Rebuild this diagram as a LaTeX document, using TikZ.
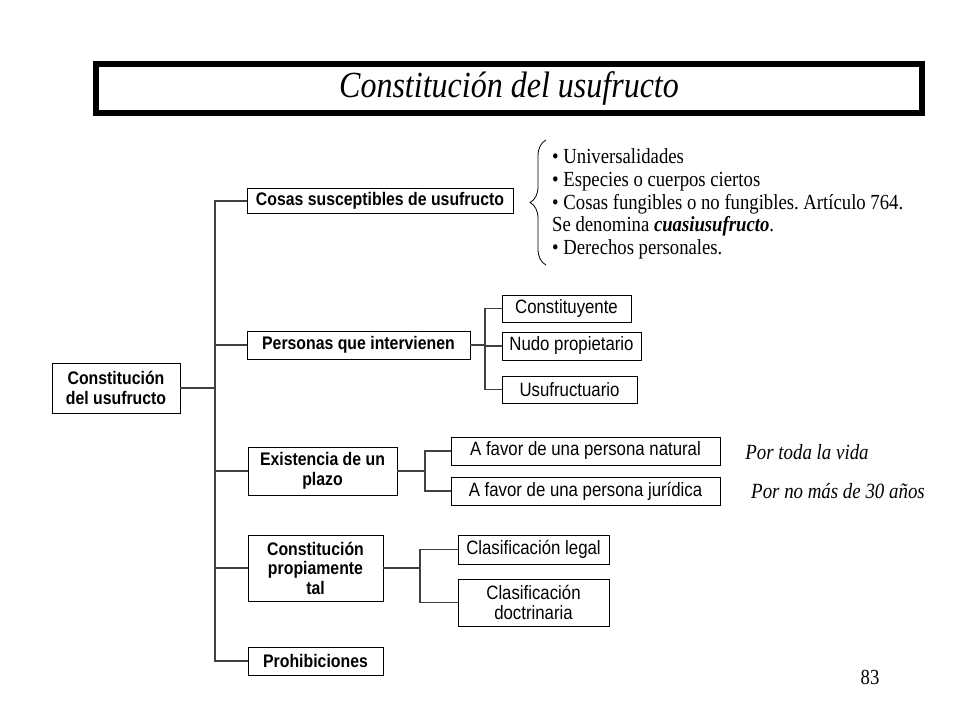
\documentclass[tikz,border=0pt]{standalone}
\usepackage{fontspec}
\setmainfont{Liberation Serif}[FakeStretch=0.87]
\setsansfont{Liberation Sans}[FakeStretch=0.87]
\usetikzlibrary{decorations.pathreplacing}

\begin{document}
\frenchspacing
\begin{tikzpicture}[x=1pt,y=-1pt,
  headbox/.style={draw,line width=0.9pt,align=center,inner sep=0pt,
    font=\sffamily\bfseries\fontsize{18.2}{19.5}\selectfont},
  leafbox/.style={draw,line width=0.9pt,align=center,inner sep=0pt,
    font=\sffamily\fontsize{19.3}{19.5}\selectfont},
  note/.style={font=\itshape\fontsize{21.7}{22}\selectfont},
  link/.style={line width=1.2pt,black!75}
]
  \useasboundingbox (0,0) rectangle (960,720);
  % titulo
  \node[draw,line width=6pt,minimum width=826pt,minimum height=49pt,
    font=\itshape\fontsize{36.8}{40}\selectfont] (title) at (509,88.5)
    {Constitución del usufructo};

  % raiz y ramas principales
  \node[headbox,minimum width=128pt,minimum height=50pt] (root) at (116,388)
    {Constitución\\del usufructo};
  \node[headbox,minimum width=266pt,minimum height=25pt] (cosas) at (380,201)
    {Cosas susceptibles de usufructo};
  \node[headbox,minimum width=223pt,minimum height=28pt] (personas)
    at (358.5,345) {Personas que intervienen};
  \node[headbox,minimum width=149pt,minimum height=48pt] (plazo)
    at (322.5,471) {Existencia de un\\plazo};
  \node[headbox,minimum width=135pt,minimum height=66pt] (propia)
    at (315.5,568) {Constitución\\propiamente\\tal};
  \node[headbox,minimum width=135pt,minimum height=28pt] (prohib)
    at (315.5,661) {Prohibiciones};

  % hojas
  \node[leafbox,minimum width=129pt,minimum height=27pt] (constit)
    at (566.5,308.5) {Constituyente};
  \node[leafbox,minimum width=139pt,minimum height=28pt] (nudo)
    at (571.5,346) {Nudo propietario};
  \node[leafbox,minimum width=135pt,minimum height=27pt] (usuf)
    at (569.5,389.5) {Usufructuario};
  \node[leafbox,minimum width=269pt,minimum height=28pt] (natural)
    at (585.5,451) {A favor de una persona natural};
  \node[leafbox,minimum width=269pt,minimum height=28pt] (juridica)
    at (585.5,491) {A favor de una persona jurídica};
  \node[leafbox,minimum width=151pt,minimum height=29pt] (legal)
    at (533.5,549.5) {Clasificación legal};
  \node[leafbox,minimum width=151pt,minimum height=47pt] (doctrina)
    at (533.5,602.5) {Clasificación\\doctrinaria};

  % notas
  \node[note] (vida) at (807,452) {Por toda la vida};
  \node[note] (anios) at (838,491) {Por no más de 30 años};
  \node[font=\fontsize{21.5}{22}\selectfont] (pagina) at (870,677) {83};

  % lista con llave
  \node[align=left,anchor=west,inner sep=0pt,
    font=\fontsize{21.5}{22.8}\selectfont] (lista) at (552,204)
    {\textbullet\ Universalidades\\
     \textbullet\ Especies o cuerpos ciertos\\
     \textbullet\ Cosas fungibles o no fungibles. Artículo 764.\\
     Se denomina \textbf{\textit{cuasiusufructo}}.\\
     \textbullet\ Derechos personales.};
  \coordinate (braceTop) at (546,140);
  \coordinate (braceBot) at (546,265);
  \draw[decorate,decoration={brace,amplitude=16pt},line width=0.8pt]
    (braceBot) -- (braceTop);

  % conectores
  \coordinate (trunk) at (215,388);
  \draw[link] (root.east) -- (trunk);
  \draw[link] (cosas.west) -- (cosas.west -| trunk) -- (prohib.west -| trunk)
    -- (prohib.west);
  \foreach \n in {personas,plazo,propia}
    \draw[link] (\n.west -| trunk) -- (\n.west);

  \coordinate (forkP) at (485,345);
  \draw[link] (personas.east) -- (forkP);
  \draw[link] (constit.west) -| (forkP) |- (usuf.west);
  \draw[link] (nudo.west -| forkP) -- (nudo.west);

  \coordinate (forkZ) at (425,471);
  \draw[link] (plazo.east) -- (forkZ);
  \draw[link] (natural.west) -| (forkZ) |- (juridica.west);

  \coordinate (forkC) at (420,568);
  \draw[link] (propia.east) -- (forkC);
  \draw[link] (legal.west) -| (forkC) |- (doctrina.west);
\end{tikzpicture}
\end{document}
